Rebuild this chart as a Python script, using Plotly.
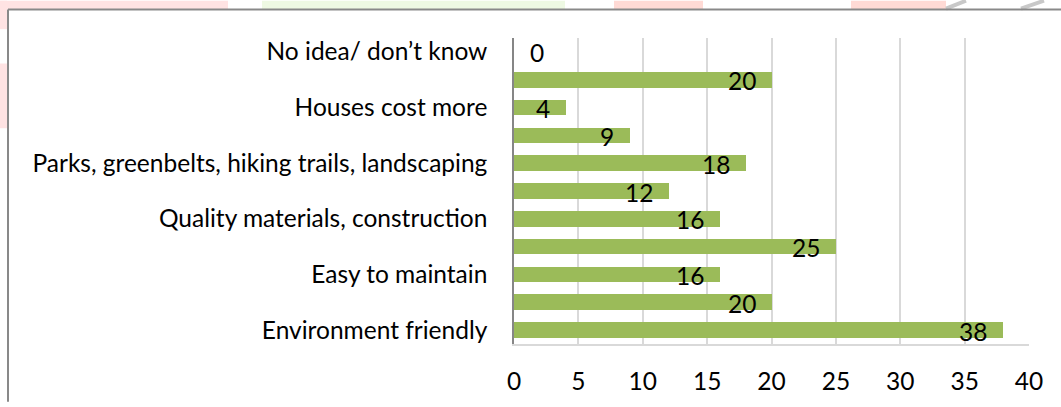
import plotly.graph_objects as go

# Survey responses, listed bottom to top as they appear on the chart
values = [38, 20, 16, 25, 16, 12, 18, 9, 4, 20, 0]
labels = [
    "Environment friendly", "",
    "Easy to maintain", "",
    "Quality materials, construction", "",
    "Parks, greenbelts, hiking trails, landscaping", "",
    "Houses cost more", "",
    "No idea/ don\u2019t know",
]
x_ticks = [0, 5, 10, 15, 20, 25, 30, 35, 40]

W, H = 1061, 407
L, R, T, B = 514, 32, 38, 57
PW, PH = W - L - R, H - T - B
FONT = "Lato, 'Open Sans', sans-serif"
FS = 24.5
BAR = "#9BBB59"

positions = list(range(len(values)))

fig = go.Figure(
    go.Bar(
        x=values,
        y=positions,
        orientation="h",
        width=0.56,
        marker=dict(color=BAR, line=dict(width=0)),
        hoverinfo="skip",
    )
)

# value labels at the inner end of each bar
annotations = []
for pos, v in zip(positions, values):
    annotations.append(dict(
        x=v, y=pos, xref="x", yref="y",
        text=str(v), showarrow=False,
        xanchor="left" if v == 0 else "right",
        xshift=14 if v == 0 else -14,
        yshift=-1,
        font=dict(family=FONT, size=FS, color="#000000"),
    ))


def fx(x):
    # page pixel column -> paper coordinate
    return (x - L) / PW


def fy(y):
    # page pixel row -> paper coordinate
    return (H - B - y) / PH


def pshape(kind, x0, y0, x1, y1, **kw):
    return dict(type=kind, xref="paper", yref="paper",
                x0=fx(x0), x1=fx(x1), y0=fy(y0), y1=fy(y1), **kw)


shapes = [
    # faint page marks along the top edge
    pshape("rect", 0, 0, 228, 9, fillcolor="#FFE3E3", line=dict(width=0), layer="below"),
    pshape("rect", 262, 0, 565, 9, fillcolor="#EEF9E3", line=dict(width=0), layer="below"),
    pshape("rect", 614, 0, 703, 9, fillcolor="#FFDAD5", line=dict(width=0), layer="below"),
    pshape("rect", 851, 0, 946, 9, fillcolor="#FFDAD5", line=dict(width=0), layer="below"),
    pshape("rect", 0, 0, 7, 29, fillcolor="#FFE3E3", line=dict(width=0), layer="below"),
    pshape("rect", 0, 64, 7, 130, fillcolor="#FFE3E3", line=dict(width=0), layer="below"),
    pshape("line", 946, 8, 966, 0, line=dict(color="#C8C8C8", width=4)),
    pshape("line", 1021, 8, 1044, 0, line=dict(color="#C8C8C8", width=4)),
    # chart frame
    pshape("line", 8, 9, W + 2, 9, line=dict(color="#898989", width=2)),
    pshape("line", 8, 9, 8, H + 2, line=dict(color="#898989", width=2)),
]

fig.update_layout(
    width=W, height=H,
    margin=dict(l=L, r=R, t=T, b=B, pad=0),
    paper_bgcolor="#FFFFFF", plot_bgcolor="#FFFFFF",
    showlegend=False,
    bargap=0,
    font=dict(family=FONT, size=FS, color="#000000"),
    annotations=annotations,
    shapes=shapes,
    xaxis=dict(
        range=[0, 40], tickvals=x_ticks, ticktext=[str(t) for t in x_ticks],
        showgrid=True, gridcolor="#D9D9D9", gridwidth=1.5,
        zeroline=False, showline=True, linecolor="#D9D9D9", linewidth=1.5,
        ticks="", ticklabelstandoff=15,
        tickfont=dict(family=FONT, size=FS, color="#000000"),
        fixedrange=True,
    ),
    yaxis=dict(
        range=[-0.5, len(values) - 0.5],
        tickvals=[p for p, t in zip(positions, labels) if t],
        ticktext=[t for t in labels if t],
        showgrid=False, zeroline=False,
        showline=True, linecolor="#868686", linewidth=1.5,
        ticks="", ticklabelstandoff=20,
        tickfont=dict(family=FONT, size=FS, color="#000000"),
        fixedrange=True,
    ),
)

fig.write_html("out.html", config={"displayModeBar": False})
